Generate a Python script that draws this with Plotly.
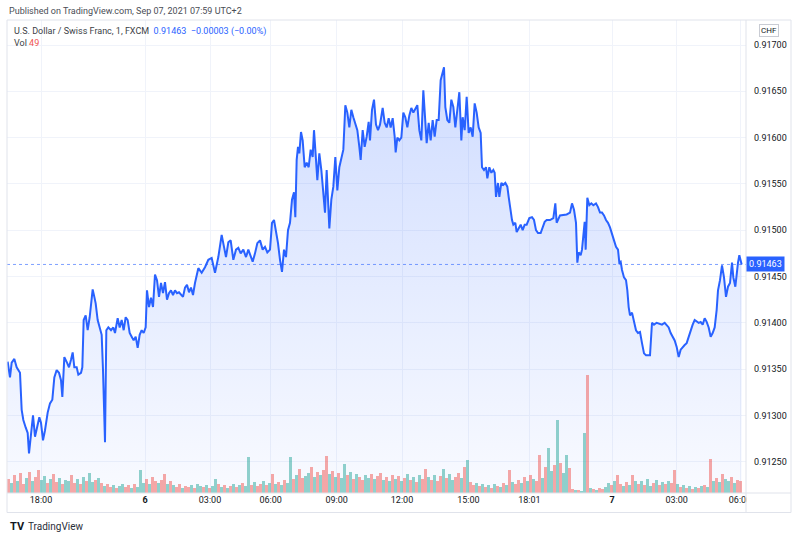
import numpy as np
import plotly.graph_objects as go

# ---------------- data ----------------
# x = bar index along TradingView's (gap-free) time axis, price = close
bar_idx = [
    2, 9, 14, 22, 29, 39, 44, 49, 56, 62,
    66, 72, 78, 84, 90, 97, 102, 108, 114, 122,
    129, 136, 142, 149, 156, 162, 166, 172, 180, 186,
    192, 197, 202, 209, 214, 222, 226, 230, 236, 242,
    248, 252, 257, 262, 266, 272, 278, 284, 288, 291,
    294, 298, 304, 312, 319, 324, 332, 338, 344, 350,
    356, 362, 368, 374, 380, 386, 392, 398, 404, 410,
    416, 420, 426, 432, 438, 444, 450, 456, 462, 468,
    474, 480, 486, 492, 498, 504, 510, 516, 522, 528,
    534, 540, 546, 552, 558, 564,
    574, 584, 594, 604, 614, 624, 634, 644, 651, 657,
    664, 671, 679, 687, 694, 701, 709, 717, 724, 731,
    737, 744, 751, 759, 767, 774, 781, 789, 795, 801,
    807, 813, 819, 825, 831, 837, 843, 849, 855, 861,
    865, 869, 873, 877, 882, 887, 893, 899, 905, 911,
    917, 921, 927, 931, 937, 943, 949, 954, 959, 963,
    967, 973, 979, 985, 991, 997, 1003, 1009, 1015, 1021,
    1027, 1033, 1039, 1045, 1051, 1057, 1061, 1067, 1073, 1079,
    1085, 1089, 1095, 1101, 1107, 1113,
    1119, 1127, 1133, 1139, 1145, 1151, 1157, 1163, 1166, 1171,
    1177, 1183, 1189, 1195, 1201, 1207, 1213, 1219, 1225, 1231,
    1237, 1243, 1249, 1255, 1259, 1265, 1271, 1277, 1283, 1289,
    1295, 1301, 1307, 1311, 1315, 1321, 1327, 1333, 1339, 1345,
    1351, 1357, 1363, 1367, 1373, 1379, 1385, 1391, 1397, 1403,
    1409, 1415, 1421, 1425, 1431, 1437, 1441, 1447, 1453, 1459,
    1463, 1467, 1473, 1477, 1483, 1489, 1495, 1501, 1505, 1509,
    1515, 1519, 1525, 1529, 1535, 1541, 1547, 1553, 1559, 1567,
    1575, 1581, 1587, 1593, 1601, 1607, 1613, 1619, 1629, 1639,
    1645, 1649, 1655,
    1659, 1679, 1689, 1695, 1701, 1707, 1711, 1715, 1721, 1725,
    1729, 1733, 1736, 1741, 1747, 1753, 1759, 1767, 1773, 1779,
    1785, 1791, 1797, 1803, 1809, 1815, 1821, 1827, 1833, 1837,
    1841, 1845, 1851, 1857, 1861, 1865, 1869, 1875, 1881, 1887,
    1893, 1899, 1905, 1911, 1917, 1923, 1929, 1935, 1941, 1949,
    1957, 1965, 1973, 1979, 1985, 1991, 1997, 2003, 2009, 2015,
    2021, 2027, 2033, 2039, 2045, 2051, 2057, 2063, 2069, 2075,
    2081, 2087, 2093, 2099, 2105, 2111, 2117, 2123, 2129, 2133,
    2139, 2145, 2151, 2157, 2163, 2169, 2175, 2179, 2185, 2189,
    2193, 2197, 2201, 2204,
]
price = [
    0.91358, 0.91341, 0.91357, 0.91361, 0.91352, 0.91346, 0.91306, 0.91295, 0.91287, 0.91281,
    0.91259, 0.91281, 0.91300, 0.91277, 0.91287, 0.91298, 0.91292, 0.91273, 0.91284, 0.91303,
    0.91313, 0.91317, 0.91341, 0.91349, 0.91346, 0.91338, 0.91320, 0.91363, 0.91357, 0.91352,
    0.91360, 0.91368, 0.91352, 0.91352, 0.91344, 0.91346, 0.91352, 0.91403, 0.91408, 0.91392,
    0.91406, 0.91421, 0.91436, 0.91428, 0.91421, 0.91403, 0.91395, 0.91387, 0.91349, 0.91298,
    0.91271, 0.91392, 0.91395, 0.91392, 0.91395, 0.91389, 0.91405, 0.91395, 0.91403, 0.91392,
    0.91406, 0.91403, 0.91389, 0.91385, 0.91381, 0.91385, 0.91373, 0.91387, 0.91392, 0.91389,
    0.91395, 0.91435, 0.91417, 0.91427, 0.91417, 0.91452, 0.91446, 0.91428, 0.91443, 0.91432,
    0.91444, 0.91425, 0.91432, 0.91435, 0.91430, 0.91435, 0.91432, 0.91433, 0.91430, 0.91428,
    0.91438, 0.91441, 0.91433, 0.91438, 0.91430, 0.91443,
    0.91459, 0.91454, 0.91460, 0.91468, 0.91470, 0.91454, 0.91471, 0.91495, 0.91482, 0.91471,
    0.91487, 0.91489, 0.91468, 0.91479, 0.91481, 0.91475, 0.91479, 0.91471, 0.91479, 0.91471,
    0.91466, 0.91475, 0.91486, 0.91489, 0.91479, 0.91482, 0.91476, 0.91479, 0.91508, 0.91511,
    0.91500, 0.91486, 0.91468, 0.91455, 0.91479, 0.91471, 0.91500, 0.91508, 0.91533, 0.91541,
    0.91514, 0.91576, 0.91590, 0.91583, 0.91606, 0.91597, 0.91568, 0.91573, 0.91568, 0.91587,
    0.91579, 0.91608, 0.91576, 0.91554, 0.91583, 0.91565, 0.91540, 0.91519, 0.91565, 0.91533,
    0.91502, 0.91533, 0.91547, 0.91579, 0.91543, 0.91568, 0.91576, 0.91587, 0.91635, 0.91627,
    0.91611, 0.91630, 0.91622, 0.91616, 0.91608, 0.91590, 0.91576, 0.91608, 0.91590, 0.91601,
    0.91617, 0.91597, 0.91630, 0.91641, 0.91614, 0.91608,
    0.91614, 0.91632, 0.91616, 0.91611, 0.91621, 0.91611, 0.91621, 0.91601, 0.91584, 0.91600,
    0.91597, 0.91600, 0.91627, 0.91622, 0.91611, 0.91624, 0.91632, 0.91627, 0.91632, 0.91635,
    0.91608, 0.91597, 0.91651, 0.91619, 0.91594, 0.91616, 0.91597, 0.91619, 0.91601, 0.91619,
    0.91619, 0.91662, 0.91670, 0.91676, 0.91633, 0.91619, 0.91616, 0.91641, 0.91633, 0.91611,
    0.91630, 0.91649, 0.91597, 0.91622, 0.91608, 0.91644, 0.91605, 0.91611, 0.91601, 0.91637,
    0.91627, 0.91611, 0.91605, 0.91568, 0.91565, 0.91568, 0.91556, 0.91568, 0.91562, 0.91565,
    0.91562, 0.91536, 0.91551, 0.91536, 0.91551, 0.91549, 0.91551, 0.91547, 0.91536, 0.91525,
    0.91511, 0.91506, 0.91508, 0.91498, 0.91503, 0.91506, 0.91500, 0.91506, 0.91506, 0.91513,
    0.91514, 0.91511, 0.91500, 0.91497, 0.91497, 0.91503, 0.91509, 0.91511, 0.91511, 0.91513,
    0.91529, 0.91508, 0.91514,
    0.91516, 0.91517, 0.91519, 0.91529, 0.91522, 0.91508, 0.91465, 0.91476, 0.91473, 0.91479,
    0.91497, 0.91509, 0.91479, 0.91535, 0.91527, 0.91529, 0.91527, 0.91529, 0.91525, 0.91519,
    0.91519, 0.91516, 0.91511, 0.91508, 0.91503, 0.91497, 0.91489, 0.91482, 0.91479, 0.91465,
    0.91466, 0.91457, 0.91449, 0.91446, 0.91435, 0.91417, 0.91408, 0.91411, 0.91401, 0.91392,
    0.91389, 0.91390, 0.91378, 0.91367, 0.91365, 0.91365, 0.91365, 0.91400, 0.91398, 0.91400,
    0.91399, 0.91398, 0.91400, 0.91398, 0.91395, 0.91389, 0.91385, 0.91381, 0.91374, 0.91363,
    0.91371, 0.91374, 0.91376, 0.91378, 0.91385, 0.91392, 0.91398, 0.91403, 0.91401, 0.91400,
    0.91401, 0.91398, 0.91405, 0.91401, 0.91395, 0.91385, 0.91389, 0.91395, 0.91414, 0.91435,
    0.91446, 0.91462, 0.91449, 0.91428, 0.91439, 0.91443, 0.91465, 0.91449, 0.91439, 0.91457,
    0.91465, 0.91473, 0.91468, 0.91463,
]
assert len(bar_idx) == len(price)

# volume columns: first bar index and spacing, then values and up/down flags
vol_start = 3
vol_step = 9
volume = [
    56, 40, 72, 48, 80, 36, 60, 84, 48, 64,
    92, 52, 68, 40, 56, 76, 44, 60, 36, 52,
    48, 72, 40, 56, 36, 64, 48, 80, 44, 52,
    60, 40, 28, 36, 24, 32, 20, 28, 36, 24,
    32, 20, 36, 24, 92, 40, 56, 36, 64, 48,
    40, 52, 76, 36, 48, 32, 24, 36, 20, 28,
    24, 32, 20, 36, 28, 24, 32, 20, 28, 56,
    36, 24, 32, 20, 28, 36, 24, 32, 40, 28,
    144, 32, 44, 28, 36, 48, 32, 40, 76, 36,
    44, 32, 52, 40, 144, 56, 72, 96, 60, 68,
    80, 104, 64, 84, 72, 92, 148, 76, 88, 64,
    80, 60, 116, 72, 84, 56, 76, 64, 52, 72,
    60, 76, 56, 68, 80, 52, 64, 48, 72, 56,
    68, 48, 60, 76, 52, 64, 44, 72, 56, 96,
    64, 52, 72, 48, 68, 96, 60, 76, 52, 64,
    80, 60, 104, 132, 44, 32, 40, 28, 36, 24,
    32, 20, 36, 28, 24, 40, 32, 92, 44, 36,
    52, 40, 64, 48, 72, 56, 48, 152, 60, 104,
    180, 88, 112, 292, 120, 80, 152, 100, 16, 12,
    12, 8, 240, 472, 20, 16, 12, 20, 16, 24,
    40, 32, 48, 72, 36, 28, 44, 32, 72, 48,
    36, 48, 32, 56, 28, 40, 52, 32, 44, 36,
    48, 40, 92, 36, 24, 32, 20, 28, 16, 24,
    20, 28, 32, 24, 136, 48, 60, 44, 76, 56,
    48, 64, 40, 52, 49,
]
vol_dir = (
    "rgrgrrgrgr" "rggrgrrgrg" "grrgrgrggr" "grgrrgrggr" "rgrgggrgrr"
    "grrgrgrrgr" "rgrggrgrgg" "rgrgrgrgrg" "grgrrgrgrg" "rgrggrgrrg"
    "grgrgrrgrg" "rggrgrgrrg" "grgrrgrgrg" "rgrgrgrgrr" "grgrrgrggr"
    "rgrgrrgrgr" "grgrgrgrgr" "rgrgrgrrgr" "ggrgrggrrg" "rggrgrgrrg"
    "grgrrgrgrg" "rgrggrgrgr" "grrgrgrgrg" "rgrgrgrgrg" "grgrr"
)
assert len(vol_dir) == len(volume)

tick_bars = [102, 414, 609, 791, 989, 1185, 1384, 1567, 1815, 2009, 2199]
tick_text = ["18:00", "<b>6</b>", "03:00", "06:00", "09:00", "12:00",
             "15:00", "18:01", "<b>7</b>", "03:00", "06:00"]
price_ticks = [0.9125, 0.9130, 0.9135, 0.9140, 0.9145, 0.9150, 0.9155, 0.9160, 0.9165, 0.9170]

last_price = price[-1]
change = -0.00003
last_vol = volume[-1]

# ---------------- layout geometry ----------------
W, H = 800, 539
L, R, T, B = 7, 746, 20, 493          # plot area in pixels
X_RANGE = [0, 2217]
Y_RANGE = [0.912162, 0.91727]
V_RANGE = [0, 1892]


def px(x):
    return (x - L) / (R - L)


def py(y):
    return (B - y) / (B - T)


FONT = "Roboto, Arial, sans-serif"
TXT = "#131722"
BLUE = "#2962ff"
GRID = "#f0f3fa"
BORDER = "#e0e3eb"

fig = go.Figure()

fig.add_trace(go.Scatter(
    x=bar_idx, y=price, mode="lines",
    line=dict(color=BLUE, width=2),
    fill="tozeroy",
    fillgradient=dict(type="vertical", start=Y_RANGE[0], stop=max(price),
                      colorscale=[[0, "rgba(41,98,255,0.03)"],
                                  [1, "rgba(41,98,255,0.22)"]]),
    hoverinfo="skip",
))

vol_x = vol_start + vol_step * np.arange(len(volume))
vol_colors = ["rgba(239,83,80,0.5)" if d == "r" else "rgba(38,166,154,0.5)" for d in vol_dir]
fig.add_trace(go.Bar(
    x=vol_x, y=volume, width=9, yaxis="y2",
    marker=dict(color=vol_colors, line=dict(width=0)),
    hoverinfo="skip",
))

fig.update_layout(
    width=W, height=H,
    margin=dict(l=L, r=W - R, t=T, b=H - B, pad=0),
    paper_bgcolor="white", plot_bgcolor="white",
    showlegend=False, bargap=0,
    font=dict(family=FONT, size=9, color=TXT),
    xaxis=dict(range=X_RANGE, tickvals=tick_bars, ticktext=tick_text,
               showgrid=True, gridcolor=GRID, gridwidth=1, zeroline=False,
               showline=False, ticks="", tickfont=dict(size=9, color=TXT),
               fixedrange=True),
    yaxis=dict(range=Y_RANGE, side="right", tickvals=price_ticks,
               ticktext=[f"{v:.5f}" for v in price_ticks],
               showgrid=True, gridcolor=GRID, gridwidth=1, zeroline=False,
               showline=False, ticks="", ticklabelstandoff=7,
               tickfont=dict(size=9, color=TXT), fixedrange=True),
    yaxis2=dict(range=V_RANGE, overlaying="y", visible=False, fixedrange=True),
)

# dotted last-price line
fig.add_shape(type="line", xref="paper", x0=0, x1=1, yref="y", y0=last_price, y1=last_price,
              line=dict(color="rgba(41,98,255,0.6)", width=1, dash="dot"), layer="above")

# mask to clip the last time label at the price-scale edge, then frame lines
fig.add_shape(type="rect", xref="paper", yref="paper", x0=1.001, x1=px(791), y0=py(512), y1=py(494),
              fillcolor="white", line=dict(width=0), layer="above")
fig.add_shape(type="rect", xref="paper", yref="paper", x0=0, x1=px(791), y0=py(512.5), y1=1,
              line=dict(color=BORDER, width=1), layer="above")
fig.add_shape(type="line", xref="paper", yref="paper", x0=1, x1=1, y0=py(512.5), y1=1,
              line=dict(color=BORDER, width=1), layer="above")
fig.add_shape(type="line", xref="paper", yref="paper", x0=0, x1=px(791), y0=0, y1=0,
              line=dict(color=BORDER, width=1), layer="above")

# last price badge on the price scale
fig.add_annotation(xref="paper", yref="y", x=1, y=last_price, xanchor="left", yanchor="middle",
                   text=f"{last_price:.5f}", showarrow=False, bgcolor=BLUE,
                   font=dict(color="white", size=9, family=FONT), borderpad=2)

# currency badge
fig.add_annotation(xref="paper", yref="paper", x=px(769), y=py(30.5), xanchor="center", yanchor="middle",
                   text="CHF", showarrow=False, bordercolor="#c9ccd4", borderwidth=1, borderpad=1,
                   bgcolor="white", font=dict(size=8, color=TXT, family=FONT))

# header texts
fig.add_annotation(xref="paper", yref="paper", x=px(7), y=py(11), xanchor="left", yanchor="middle",
                   text="Published on TradingView.com, Sep 07, 2021 07:59 UTC+2", showarrow=False,
                   font=dict(size=9, color="#4a4d55", family=FONT))
fig.add_annotation(xref="paper", yref="paper", x=px(12), y=py(31), xanchor="left", yanchor="middle",
                   text=("U.S. Dollar / Swiss Franc, 1, FXCM  "
                         f"<span style='color:{BLUE}'>{last_price:.5f}  {change:+.5f} (−0.00%)</span>"
                         ).replace("-0.", "−0."),
                   showarrow=False, font=dict(size=9, color="#3c3f46", family=FONT))
fig.add_annotation(xref="paper", yref="paper", x=px(12), y=py(43), xanchor="left", yanchor="middle",
                   text=f"Vol <span style='color:#ef5350'>{last_vol}</span>", showarrow=False,
                   font=dict(size=9, color="#3c3f46", family=FONT))

# footer logo
fig.add_annotation(xref="paper", yref="paper", x=px(8), y=py(526), xanchor="left", yanchor="middle",
                   text="<b>TV</b>", showarrow=False, font=dict(size=11, color=TXT, family=FONT))
fig.add_annotation(xref="paper", yref="paper", x=px(26), y=py(526), xanchor="left", yanchor="middle",
                   text="TradingView", showarrow=False, font=dict(size=10, color="#2a2e39", family=FONT))

fig.write_html("out.html")
